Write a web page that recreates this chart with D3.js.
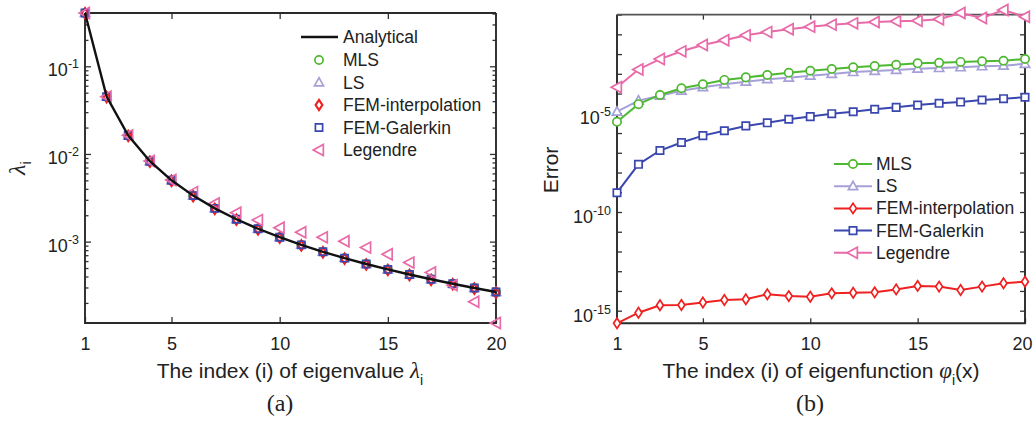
<!DOCTYPE html>
<html><head><meta charset="utf-8">
<script src="https://cdn.jsdelivr.net/npm/d3@7"></script>
<style>
body{margin:0;background:#fff}
text{font-family:"Liberation Sans",Arial,Helvetica,sans-serif;fill:#222}
</style>
</head><body>
<script>
// ---------------- data ----------------
const idx = [1,2,3,4,5,6,7,8,9,10,11,12,13,14,15,16,17,18,19,20];
const xTickVals = [1,5,10,15,20];

// panel (a): eigenvalues
const lamAnalytical = [0.4053,0.04503,0.01621,0.008271,0.005004,0.003349,0.002398,0.001801,0.001402,0.001123,0.000919,0.000766,0.000648,0.000556,0.000482,0.000422,0.000372,0.000331,0.000296,0.000266];
const lamMLS       = [0.4053,0.04503,0.01621,0.008271,0.005004,0.003349,0.002398,0.001801,0.001402,0.001123,0.000919,0.000766,0.000648,0.000556,0.000482,0.000422,0.000372,0.000331,0.000296,0.000266];
const lamLS        = [0.4053,0.04503,0.01621,0.008271,0.005004,0.003349,0.002398,0.001801,0.001402,0.001123,0.000919,0.000766,0.000648,0.000556,0.000482,0.000422,0.000372,0.000331,0.000296,0.000266];
const lamFEMi      = [0.4030,0.04450,0.01600,0.008150,0.004930,0.003300,0.002360,0.001775,0.001380,0.001105,0.000905,0.000754,0.000638,0.000547,0.000474,0.000415,0.000366,0.000326,0.000291,0.000262];
const lamFEMg      = [0.4053,0.04503,0.01621,0.008271,0.005004,0.003349,0.002398,0.001801,0.001402,0.001123,0.000919,0.000766,0.000648,0.000556,0.000482,0.000422,0.000372,0.000331,0.000296,0.000266];
const lamLegendre  = [0.4053,0.04503,0.01630,0.008300,0.005050,0.003670,0.002720,0.002140,0.001760,0.001440,0.001280,0.001120,0.001010,0.000855,0.000717,0.000577,0.000444,0.000319,0.000206,0.000118];
const lamTicks = [1e-1,1e-2,1e-3];

// panel (b): eigenfunction errors
const errMLS  = [3.7e-6,2.9e-5,8.5e-5,1.85e-4,2.95e-4,4.9e-4,6.6e-4,8.7e-4,1.14e-3,1.44e-3,1.75e-3,2.14e-3,2.5e-3,2.9e-3,3.4e-3,3.6e-3,4.0e-3,4.3e-3,4.6e-3,5.6e-3];
const errLS   = [1.2e-5,4.4e-5,7.8e-5,1.4e-4,2.1e-4,2.95e-4,4.0e-4,5.3e-4,6.3e-4,8.0e-4,9.8e-4,1.23e-3,1.39e-3,1.56e-3,1.82e-3,1.96e-3,2.14e-3,2.4e-3,2.6e-3,3.2e-3];
const errFEMi = [2.3e-16,7.9e-16,1.9e-15,1.95e-15,2.6e-15,3.5e-15,3.8e-15,6.8e-15,5.5e-15,5.1e-15,7.6e-15,8.1e-15,8.5e-15,1.2e-14,1.8e-14,1.66e-14,1.12e-14,1.66e-14,2.45e-14,2.95e-14];
const errFEMg = [9.5e-10,2.6e-8,1.3e-7,3.3e-7,7.4e-7,1.3e-6,2.3e-6,3.3e-6,5.0e-6,6.8e-6,9.6e-6,1.2e-5,1.6e-5,2.0e-5,2.6e-5,3.2e-5,3.7e-5,4.7e-5,5.5e-5,6.5e-5];
const errLeg  = [2.1e-4,1.66e-3,5.6e-3,1.38e-2,2.9e-2,5.0e-2,8.9e-2,0.13,0.18,0.245,0.31,0.36,0.42,0.46,0.49,0.58,1.2,0.67,1.7,0.78];
const errTickExp = [-15,-14,-13,-12,-11,-10,-9,-8,-7,-6,-5,-4,-3,-2,-1,0];
const errLabelExp = [-5,-10,-15];

const seriesNames = ["MLS","LS","FEM-interpolation","FEM-Galerkin","Legendre"];
const colors = {"MLS":"#4fb832","LS":"#a6a0d8","FEM-interpolation":"#ee2020","FEM-Galerkin":"#3a47ae","Legendre":"#e86aa8"};

// ---------------- helpers ----------------
const W = 1034, H = 424;
const svg = d3.select("body").append("svg").attr("width", W).attr("height", H);

function markerPath(name, s){
  switch(name){
    case "MLS": { const r=s*0.85; return `M${r},0A${r},${r} 0 1,1 ${-r},0A${r},${r} 0 1,1 ${r},0Z`; }
    case "LS": return `M0,${-s}L${s*0.95},${s*0.7}L${-s*0.95},${s*0.7}Z`;
    case "FEM-interpolation": return `M0,${-s*1.05}L${s*0.7},0L0,${s*1.05}L${-s*0.7},0Z`;
    case "FEM-Galerkin": { const h=s*0.75; return `M${-h},${-h}H${h}V${h}H${-h}Z`; }
    case "Legendre": return `M${-s},0L${s*0.75},${-s*0.95}L${s*0.75},${s*0.95}Z`;
  }
}

function drawFrame(x, y, opts){
  const [x0,x1] = x.range(), [yb,yt] = y.range();
  const g = svg.append("g");
  const tickCol = "#333";
  const gb = g.append("g").attr("transform",`translate(0,${yb})`)
    .call(d3.axisBottom(x).tickValues(xTickVals).tickSizeInner(-opts.len).tickSizeOuter(0).tickPadding(14));
  gb.selectAll("text").attr("font-size",18).style("font-family","Liberation Sans, Arial, sans-serif").attr("fill","#222");
  if (opts.lastShift) gb.selectAll(".tick text").filter(d=>d===20).attr("dx",opts.lastShift);
  g.append("g").attr("transform",`translate(0,${yt})`)
    .call(d3.axisTop(x).tickValues(xTickVals.slice(1,-1)).tickSizeInner(-opts.len).tickSizeOuter(0).tickFormat(""));
  g.append("g").attr("transform",`translate(${x0},0)`)
    .call(d3.axisLeft(y).tickValues(opts.major).tickSizeInner(-opts.len).tickSizeOuter(0).tickFormat(""));
  g.append("g").attr("transform",`translate(${x1},0)`)
    .call(d3.axisRight(y).tickValues(opts.major).tickSizeInner(-opts.len).tickSizeOuter(0).tickFormat(""));
  if (opts.minor){
    g.append("g").attr("transform",`translate(${x0},0)`)
      .call(d3.axisLeft(y).tickValues(opts.minor).tickSizeInner(-opts.minorLen).tickSizeOuter(0).tickFormat(""));
    g.append("g").attr("transform",`translate(${x1},0)`)
      .call(d3.axisRight(y).tickValues(opts.minor).tickSizeInner(-opts.minorLen).tickSizeOuter(0).tickFormat(""));
  }
  g.selectAll(".domain").remove();
  g.selectAll(".tick line").attr("stroke",tickCol).attr("stroke-width",1.3);
  g.append("path").attr("d",`M${x0},${yt}V${yb}H${x1}V${yt}`).attr("fill","none").attr("stroke","#2a2a2a").attr("stroke-width",1.9);
  g.append("line").attr("x1",x0).attr("x2",x1).attr("y1",yt).attr("y2",yt).attr("stroke",opts.topColor||"#2a2a2a").attr("stroke-width",1.9);
  opts.labels.forEach(e=>{
    const t = svg.append("text").attr("x",x0-6).attr("y",y(Math.pow(10,e))+opts.labDy).attr("text-anchor","end").attr("font-size",18);
    t.append("tspan").text("10");
    t.append("tspan").attr("dy",-8).attr("font-size",12.5).text(String(e));
  });
}

// ---------------- panel (a) ----------------
const xA = d3.scaleLinear().domain([1,20]).range([85,496]);
const yA = d3.scaleLog().domain([1.18e-4,0.4053]).range([323,13]);
const minorA = yA.ticks().filter(v=>Math.abs(Math.log10(v)-Math.round(Math.log10(v)))>1e-9);
drawFrame(xA, yA, {major:lamTicks, minor:minorA, len:6, minorLen:3.5, labels:[-1,-2,-3], labDy:10});

const lamSeries = {"MLS":lamMLS,"LS":lamLS,"FEM-interpolation":lamFEMi,"FEM-Galerkin":lamFEMg,"Legendre":lamLegendre};
seriesNames.forEach(n=>{
  svg.append("g").selectAll("path").data(lamSeries[n]).join("path")
    .attr("transform",(d,i)=>`translate(${xA(idx[i])},${yA(d)})`)
    .attr("d",markerPath(n, n==="Legendre"?5.8:4.8))
    .attr("fill","none").attr("stroke",colors[n]).attr("stroke-width",n==="FEM-interpolation"?2.2:1.7);
});
svg.append("path").datum(lamAnalytical)
  .attr("d",d3.line().x((d,i)=>xA(idx[i])).y(d=>yA(d)))
  .attr("fill","none").attr("stroke","#111").attr("stroke-width",2.4);

// legend (a)
const legA = svg.append("g");
legA.append("line").attr("x1",301).attr("x2",338).attr("y1",37).attr("y2",37).attr("stroke","#111").attr("stroke-width",2.4);
legA.append("text").attr("x",343).attr("y",43).attr("font-size",17.5).text("Analytical");
seriesNames.forEach((n,k)=>{
  const yy = 60 + k*22.5;
  legA.append("path").attr("transform",`translate(319,${yy})`).attr("d",markerPath(n,n==="Legendre"?5.8:4.8))
    .attr("fill","none").attr("stroke",colors[n]).attr("stroke-width",n==="FEM-interpolation"?2.2:1.7);
  legA.append("text").attr("x",343).attr("y",yy+6).attr("font-size",17.5).text(n);
});

// axis titles (a)
const yt = svg.append("text").attr("transform","translate(25,168) rotate(-90)").attr("text-anchor","middle").attr("font-size",24);
yt.append("tspan").style("font-family","Liberation Serif, serif").attr("font-style","italic").text("λ");
yt.append("tspan").attr("dy",6).attr("font-size",15).text("i");
const xt = svg.append("text").attr("x",290).attr("y",378).attr("text-anchor","middle").attr("font-size",21);
xt.append("tspan").text("The index (i) of eigenvalue ");
xt.append("tspan").style("font-family","Liberation Serif, serif").attr("font-style","italic").attr("font-size",23).text("λ");
xt.append("tspan").attr("dy",7).attr("font-size",14).text("i");
svg.append("text").attr("x",280).attr("y",411).attr("text-anchor","middle").attr("font-size",24)
  .style("font-family","Liberation Serif, 'Times New Roman', serif").text("(a)");

// ---------------- panel (b) ----------------
const xB = d3.scaleLinear().domain([1,20]).range([617,1025]);
const yB = d3.scaleLog().domain([2.3e-16,1]).range([323.3,14.6]);
drawFrame(xB, yB, {major:errTickExp.map(e=>Math.pow(10,e)), minor:null, len:5, labels:errLabelExp, labDy:11, topColor:"#555", lastShift:-3});

const errSeries = {"MLS":errMLS,"LS":errLS,"FEM-interpolation":errFEMi,"FEM-Galerkin":errFEMg,"Legendre":errLeg};
const drawOrder = ["Legendre","FEM-Galerkin","LS","MLS","FEM-interpolation"];
drawOrder.forEach(n=>{
  const g = svg.append("g");
  g.append("path").datum(errSeries[n])
    .attr("d",d3.line().x((d,i)=>xB(idx[i])).y(d=>yB(d)))
    .attr("fill","none").attr("stroke",colors[n]).attr("stroke-width",2);
  g.selectAll("path.m").data(errSeries[n]).join("path").attr("class","m")
    .attr("transform",(d,i)=>`translate(${xB(idx[i])},${yB(d)})`)
    .attr("d",markerPath(n, n==="Legendre"?5.8:4.9))
    .attr("fill","#fff").attr("stroke",colors[n]).attr("stroke-width",1.7);
});

// legend (b)
const legB = svg.append("g");
seriesNames.forEach((n,k)=>{
  const yy = 164 + k*22.2;
  legB.append("line").attr("x1",834).attr("x2",872).attr("y1",yy).attr("y2",yy).attr("stroke",colors[n]).attr("stroke-width",2);
  legB.append("path").attr("transform",`translate(853,${yy})`).attr("d",markerPath(n,n==="Legendre"?5.8:4.9))
    .attr("fill","#fff").attr("stroke",colors[n]).attr("stroke-width",1.7);
  legB.append("text").attr("x",876).attr("y",yy+6).attr("font-size",17.5).text(n);
});

// axis titles (b)
svg.append("text").attr("transform","translate(558,170) rotate(-90)").attr("text-anchor","middle").attr("font-size",21).text("Error");
const xt2 = svg.append("text").attr("x",821).attr("y",378).attr("text-anchor","middle").attr("font-size",21);
xt2.append("tspan").text("The index (i) of eigenfunction ");
xt2.append("tspan").style("font-family","Liberation Serif, serif").attr("font-style","italic").attr("font-size",23).text("φ");
xt2.append("tspan").attr("dy",7).attr("font-size",14).text("i");
xt2.append("tspan").attr("dy",-7).text("(x)");
svg.append("text").attr("x",810).attr("y",411).attr("text-anchor","middle").attr("font-size",24)
  .style("font-family","Liberation Serif, 'Times New Roman', serif").text("(b)");
</script>
</body></html>
